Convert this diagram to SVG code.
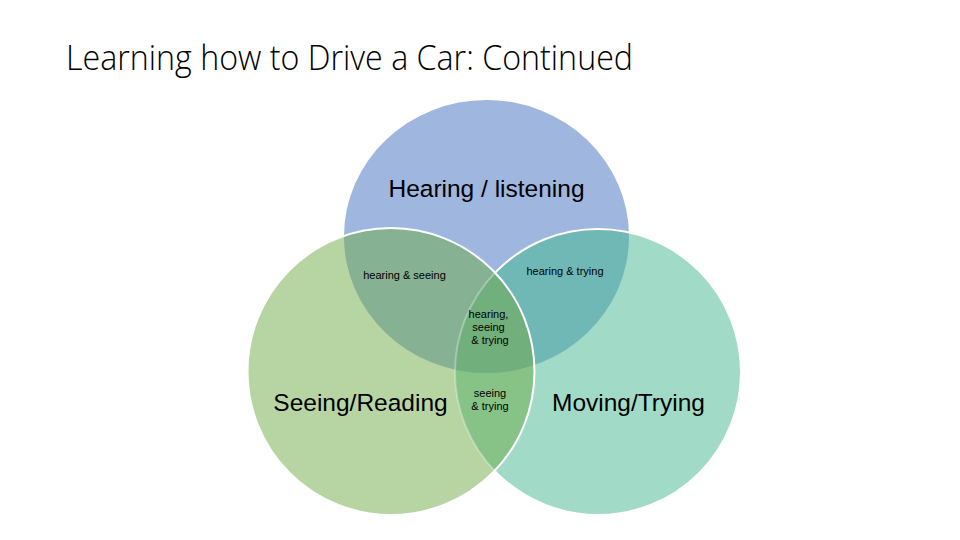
<svg xmlns="http://www.w3.org/2000/svg" width="960" height="540" viewBox="0 0 960 540">
  <style>
    .title { font-family: "Open Sans", "Liberation Sans", sans-serif; font-weight: 300; font-size: 35px; fill: #000; }
    .big { font-family: "Liberation Sans", Arial, sans-serif; font-size: 24.5px; fill: #000; text-anchor: middle; }
    .small { font-family: "Liberation Sans", Arial, sans-serif; font-size: 11px; fill: #000; text-anchor: middle; }
    .edge { fill: none; stroke: #fff; stroke-width: 2; }
  </style>
  <defs>
    <ellipse id="topShape" cx="486.5" cy="236.5" rx="142.5" ry="136.5"/>
    <circle id="leftShape" cx="391" cy="371.5" r="143.5"/>
    <circle id="rightShape" cx="598" cy="372" r="143"/>
    <clipPath id="clipTop"><use href="#topShape"/></clipPath>
    <clipPath id="clipLeft"><use href="#leftShape"/></clipPath>
    <clipPath id="clipRight"><use href="#rightShape"/></clipPath>
    <mask id="outsideLeft" maskUnits="userSpaceOnUse" x="0" y="0" width="960" height="540">
      <rect x="0" y="0" width="960" height="540" fill="#fff"/>
      <use href="#leftShape" fill="#000"/>
    </mask>
  </defs>
  <rect x="0" y="0" width="960" height="540" fill="#fff"/>

  <text class="title" x="66" y="70" textLength="567" lengthAdjust="spacingAndGlyphs">Learning how to Drive a Car: Continued</text>

  <g id="hearing">
    <use href="#topShape" fill="#9FB6DE"/>
  </g>
  <g id="seeing">
    <use href="#leftShape" fill="#B7D5A3"/>
  </g>
  <g id="trying">
    <use href="#rightShape" fill="#A1DBC7"/>
  </g>
  <g id="hearing-seeing">
    <use href="#leftShape" fill="#86B192" clip-path="url(#clipTop)"/>
  </g>
  <g id="hearing-trying">
    <use href="#rightShape" fill="#6FB8B6" clip-path="url(#clipTop)"/>
  </g>
  <g id="seeing-trying">
    <g clip-path="url(#clipRight)">
      <use href="#leftShape" fill="#87C286"/>
    </g>
  </g>
  <g id="hearing-seeing-trying">
    <g clip-path="url(#clipTop)">
      <g clip-path="url(#clipRight)">
        <use href="#leftShape" fill="#71AF7D"/>
      </g>
    </g>
  </g>

  <g id="edges">
    <use href="#rightShape" class="edge" mask="url(#outsideLeft)"/>
    <use href="#rightShape" class="edge" stroke-opacity="0.3" clip-path="url(#clipLeft)"/>
    <use href="#leftShape" class="edge"/>
  </g>

  <g id="labels">
    <text class="big" x="486.5" y="197">Hearing / listening</text>
    <text class="big" x="360.5" y="411">Seeing/Reading</text>
    <text class="big" x="628.5" y="411">Moving/Trying</text>
    <text class="small" x="404.5" y="279">hearing &amp; seeing</text>
    <text class="small" x="565" y="275">hearing &amp; trying</text>
    <text class="small" x="488.5" y="318">hearing,</text>
    <text class="small" x="488.5" y="331">seeing</text>
    <text class="small" x="490" y="344">&amp; trying</text>
    <text class="small" x="490" y="397">seeing</text>
    <text class="small" x="490" y="410">&amp; trying</text>
  </g>
</svg>
